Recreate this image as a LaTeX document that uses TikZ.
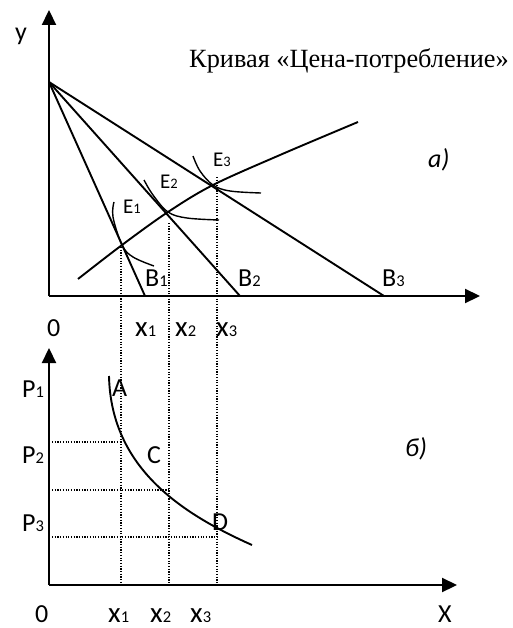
\documentclass[tikz,border=0pt]{standalone}
\usepackage{fontspec}
\setmainfont{Carlito}
\newfontfamily\titlefont{Liberation Serif}
\usetikzlibrary{arrows.meta}
\newcommand\mysub[1]{{\fontsize{16.5}{16.5}\selectfont #1}}
\newcommand\esub[1]{{\fontsize{14.5}{14.5}\selectfont #1}}
\newcommand\bigx{{\fontsize{29}{29}\selectfont x}}
\tikzset{
  lbl/.style={font=\fontsize{26}{26}\selectfont, inner sep=0pt, anchor=base west},
  elbl/.style={font=\fontsize{21}{21}\selectfont, inner sep=0pt, anchor=base west},
  axisline/.style={line width=2.2pt, -{Triangle[length=15pt,width=14pt]}},
  curveline/.style={line width=1.9pt},
  icline/.style={line width=1.4pt},
  guide/.style={line width=1.2pt, dash pattern=on 1.2pt off 1.5pt},
}
\begin{document}
\begin{tikzpicture}[x=1pt,y=-1pt]
\useasboundingbox (0,0) rectangle (513,628);
% ---------- top panel ----------
\coordinate (O1) at (49,296);
\coordinate (Ytop) at (49,10);
\coordinate (Xtop) at (480,296);
\coordinate (A0) at (49,82);
\coordinate (B1p) at (145,296);
\coordinate (B2p) at (240,296);
\coordinate (B3p) at (384,296);
\coordinate (E1) at (122,245);
\coordinate (E2) at (168,212);
\coordinate (E3) at (213,185);
\coordinate (pccS) at (78,279);
\coordinate (pccE) at (358,122);

\draw[axisline] (O1) -- (Ytop);
\draw[axisline] (O1) -- (Xtop);

\draw[curveline] (A0) -- (B1p);
\draw[curveline] (A0) -- (B2p);
\draw[curveline] (A0) -- (B3p);

\draw[curveline] plot[smooth, tension=0.55] coordinates {(pccS) (E1) (E2) (E3) (280,155) (pccE)};

% indifference curves
\draw[icline] plot[smooth, tension=0.6] coordinates {(114,202) (113,217) (E1) (133,257) (154,266)};
\draw[icline] plot[smooth, tension=0.6] coordinates {(144,180) (153,195) (E2) (187,218) (219,220)};
\draw[icline] plot[smooth, tension=0.6] coordinates {(193,156) (200,171) (E3) (230,191) (261,193)};

% ---------- bottom panel ----------
\coordinate (O2) at (49,585);
\coordinate (Ybot) at (49,348);
\coordinate (Xbot) at (457,585);
\draw[axisline] (O2) -- (Ybot);
\draw[axisline] (O2) -- (Xbot);

\coordinate (x1b) at (121,585);
\coordinate (x2b) at (169,585);
\coordinate (x3b) at (217,585);
\coordinate (d1) at (121,247);
\coordinate (d2) at (169,223);
\coordinate (d3) at (217,177);
\draw[guide] (d1) -- (x1b);
\draw[guide] (d2) -- (x2b);
\draw[guide] (d3) -- (x3b);

\coordinate (h1s) at (52,442);
\coordinate (h1e) at (121,442);
\coordinate (h2s) at (52,490);
\coordinate (h2e) at (169,490);
\coordinate (h3s) at (52,537);
\coordinate (h3e) at (217,537);
\draw[guide] (h1s) -- (h1e);
\draw[guide] (h2s) -- (h2e);
\draw[guide] (h3s) -- (h3e);

\coordinate (dS) at (109,376);
\coordinate (dE) at (252,545);
\draw[curveline] (dS) .. controls (111,470) and (185,515) .. (dE);

% ---------- labels ----------
\node[inner sep=0pt, anchor=base, font=\titlefont\fontsize{26.3}{26.3}\selectfont] (title) at (349,68) {Кривая «Цена-потребление»};
\node[lbl] (ylab) at (15,41) {y};
\node[lbl] (zero1) at (47,336) {0};
\node[lbl] (x1t) at (135,336) {\bigx\mysub{1}};
\node[lbl] (x2t) at (175,336) {\bigx\mysub{2}};
\node[lbl] (x3t) at (216,336) {\bigx\mysub{3}};
\node[lbl] (B1) at (145,286) {B\mysub{1}};
\node[lbl] (B2) at (238,286) {B\mysub{2}};
\node[lbl] (B3) at (382,286) {B\mysub{3}};
\node[elbl] (E1l) at (123,214) {E\esub{1}};
\node[elbl] (E2l) at (160,189) {E\esub{2}};
\node[elbl] (E3l) at (213,167) {E\esub{3}};
\node[lbl, font=\fontsize{26}{26}\selectfont\itshape] (alab) at (428,168) {a)};

\node[lbl] (P1) at (22,397) {P\mysub{1}};
\node[lbl] (P2) at (22,463) {P\mysub{2}};
\node[lbl] (P3) at (22,531) {P\mysub{3}};
\node[lbl] (Al) at (112,396) {A};
\node[lbl] (Cl) at (147,463) {C};
\node[lbl] (Dl) at (212,530) {D};
\node[lbl, font=\fontsize{26}{26}\selectfont\itshape] (blab) at (405,456) {б)};

\node[lbl] (zero2) at (35,622) {0};
\node[lbl] (x1bl) at (108,622) {\bigx\mysub{1}};
\node[lbl] (x2bl) at (150,622) {\bigx\mysub{2}};
\node[lbl] (x3bl) at (190,622) {\bigx\mysub{3}};
\node[lbl] (Xl) at (438,622) {X};
\end{tikzpicture}
\end{document}
